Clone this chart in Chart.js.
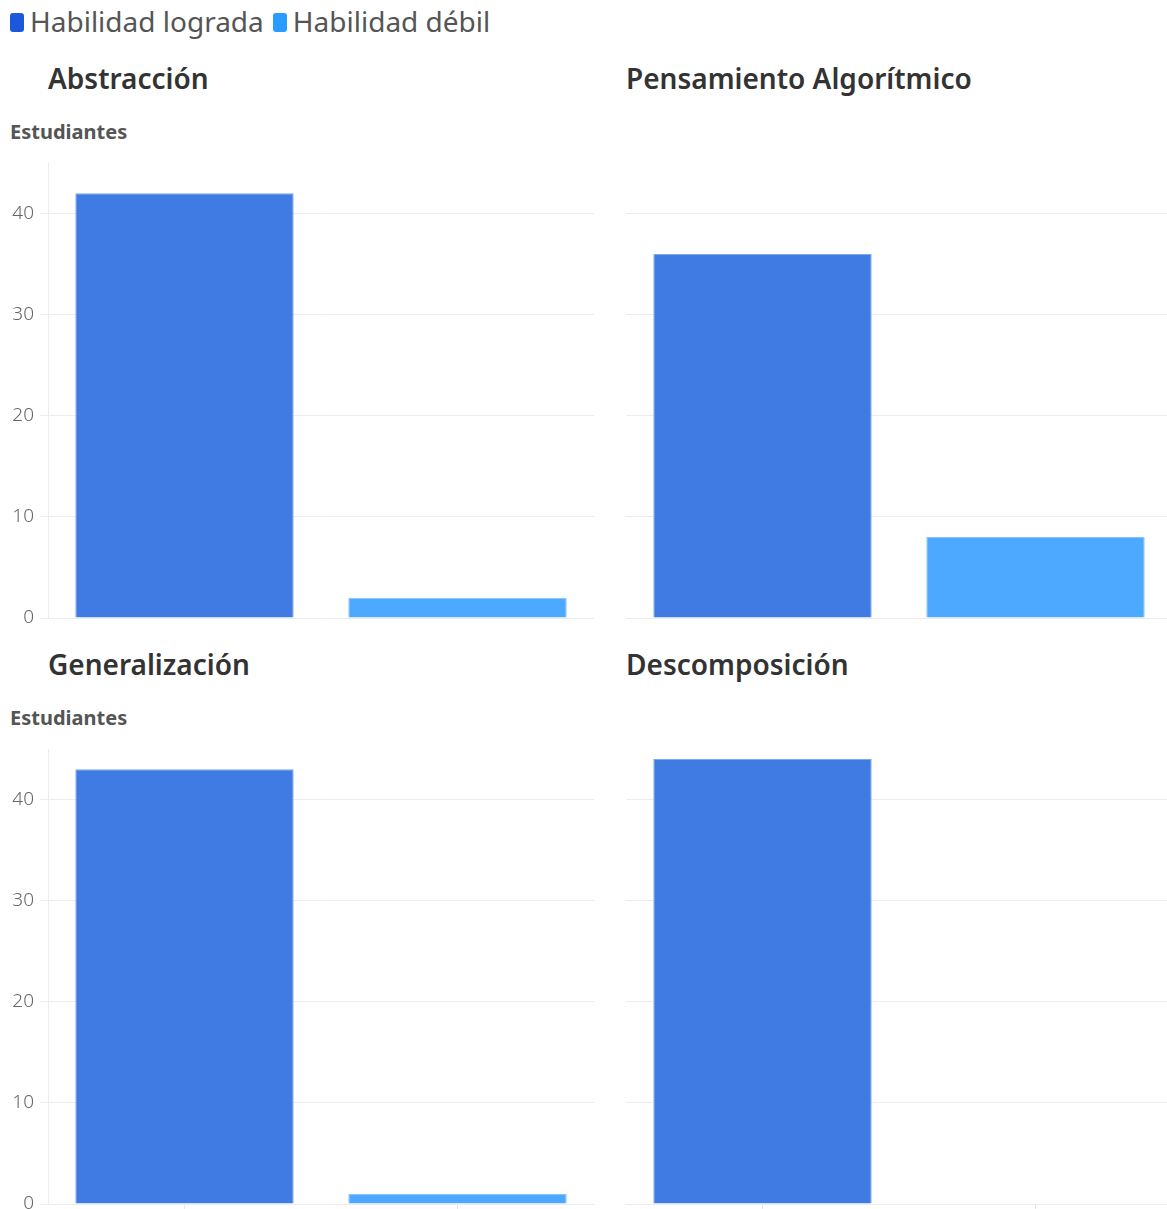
<!DOCTYPE html>
<html>
<head>
<meta charset="utf-8">
<script src="https://cdn.jsdelivr.net/npm/chart.js@4.4.1/dist/chart.umd.min.js"></script>
<style>
  html, body { margin: 0; padding: 0; background: #fff; overflow: hidden; }
  body { width: 1167px; height: 1209px; position: relative; font-family: "Noto Sans", sans-serif; }
  .legend { position: absolute; left: 10px; top: 3px; font-size: 28px; color: #555; line-height: 36px; white-space: nowrap; }
  .legend span.item { margin-right: 9px; }
  .legend i { display: inline-block; width: 14px; height: 19px; border-radius: 3px; margin-right: 6px; vertical-align: 0px; }
  .title { position: absolute; font-size: 28px; font-weight: 600; color: #333; line-height: 32px; white-space: nowrap; }
  .ytitle { position: absolute; left: 10px; font-size: 20px; font-weight: 700; color: #555; line-height: 22px; }
  canvas { position: absolute; }
</style>
</head>
<body>
<div class="legend" id="legend"></div>
<div class="title" style="left:48px;top:62px">Abstracción</div>
<div class="title" style="left:626px;top:62px">Pensamiento Algorítmico</div>
<div class="title" style="left:48px;top:648px">Generalización</div>
<div class="title" style="left:626px;top:648px">Descomposición</div>
<div class="ytitle" style="top:121px">Estudiantes</div>
<div class="ytitle" style="top:707px">Estudiantes</div>

<canvas id="c0" width="594" height="470" style="left:0;top:158px"></canvas>
<canvas id="c1" width="572" height="470" style="left:600px;top:158px"></canvas>
<canvas id="c2" width="594" height="470" style="left:0;top:744px"></canvas>
<canvas id="c3" width="572" height="470" style="left:600px;top:744px"></canvas>

<script>
const categories = ['Habilidad lograda', 'Habilidad débil'];
const skills = ['Abstracción', 'Pensamiento Algorítmico', 'Generalización', 'Descomposición'];
const logradaValues = [42, 36, 43, 44];
const debilValues = [2, 8, 1, 0];
const yTicks = [0, 10, 20, 30, 40];
const yMax = 45;

const legendColors = ['#1b58dc', '#2a9cff'];
const barColors = ['#3f7be3', '#4da9ff'];
const barBorders = ['#7fa6ee', '#86c4ff'];

// legend
const legend = document.getElementById('legend');
categories.forEach((cat, i) => {
    const item = document.createElement('span');
    item.className = 'item';
    item.innerHTML = '<i style="background:' + legendColors[i] + '"></i>' + cat;
    legend.appendChild(item);
});

function makeChart(id, idx, leftPanel, bottomRow) {
    const ctx = document.getElementById(id);
    return new Chart(ctx, {
        type: 'bar',
        data: {
            labels: categories,
            datasets: [{
                label: skills[idx],
                data: [logradaValues[idx], debilValues[idx]],
                backgroundColor: barColors,
                borderColor: barBorders,
                borderWidth: 1,
                barPercentage: 0.8,
                categoryPercentage: 1.0
            }]
        },
        options: {
            responsive: false,
            animation: false,
            layout: { padding: { top: 5, right: 0, bottom: 0, left: 0 } },
            plugins: {
                legend: { display: false },
                title: { display: false },
                tooltip: { enabled: false }
            },
            scales: {
                x: {
                    grid: {
                        display: bottomRow,
                        drawOnChartArea: false,
                        offset: false,
                        tickLength: 6,
                        color: '#e6e6e6'
                    },
                    border: { display: false },
                    ticks: { display: false },
                    afterFit: scale => { scale.height = 10; }
                },
                y: {
                    min: 0,
                    max: yMax,
                    afterBuildTicks: scale => {
                        scale.ticks = yTicks.map(v => ({ value: v }));
                    },
                    grid: {
                        color: '#ececec',
                        lineWidth: 1,
                        drawTicks: leftPanel,
                        tickLength: 8
                    },
                    border: { display: leftPanel, color: '#ececec' },
                    ticks: {
                        display: leftPanel,
                        padding: 6,
                        color: '#666',
                        font: { family: 'Noto Sans', size: 19, weight: 300 }
                    },
                    afterFit: scale => {
                        scale.width = leftPanel ? 48 : 26;
                        scale.paddingTop = 0;
                        scale.paddingBottom = 0;
                    }
                }
            }
        }
    });
}

makeChart('c0', 0, true, false);
makeChart('c1', 1, false, false);
makeChart('c2', 2, true, true);
makeChart('c3', 3, false, true);
</script>
</body>
</html>
